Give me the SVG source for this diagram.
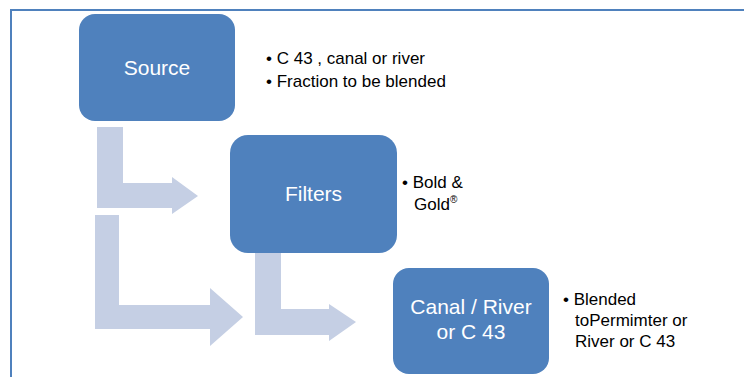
<svg xmlns="http://www.w3.org/2000/svg" width="744" height="377" viewBox="0 0 744 377">
<style>
.box{fill:#4F81BD;}
.arrow{fill:#C5CFE4;}
.lbl{font-family:"Liberation Sans",Arial,sans-serif;font-size:21px;fill:#FFFFFF;text-anchor:middle;}
.txt{font-family:"Liberation Sans",Arial,sans-serif;font-size:17px;fill:#000000;}
.frame{fill:none;stroke:#4F81BD;stroke-width:2;}
</style>
<rect width="744" height="377" fill="#FFFFFF"/>
<polyline class="frame" points="11,377 11,10 744,10"/>
<g id="connectors">
<polygon class="arrow" points="97,127 123,127 123,183 172,183 172,177 198,196 172,214 172,208 97,208"/>
<polygon class="arrow" points="95,215 119,215 119,305 210,305 210,288 243,317 210,346 210,329 95,329"/>
<polygon class="arrow" points="255,253 281,253 281,309 329,309 329,304 356,322 329,341 329,335 255,335"/>
</g>
<g id="source">
<rect class="box" x="79" y="14" width="156" height="107" rx="16"/>
<text class="lbl" x="157" y="75">Source</text>
</g>
<g id="source-notes">
<text class="txt" x="266" y="64">• C 43 , canal or river</text>
<text class="txt" x="266" y="87">• Fraction to be blended</text>
</g>
<g id="filters">
<rect class="box" x="230" y="135" width="167" height="118" rx="18"/>
<text class="lbl" x="313.5" y="201">Filters</text>
</g>
<g id="filters-notes">
<text class="txt" x="402" y="188">• Bold &amp;</text>
<text class="txt" x="414" y="210">Gold<tspan font-size="10" dy="-7">®</tspan></text>
</g>
<g id="canal">
<rect class="box" x="393" y="268" width="156" height="106" rx="16"/>
<text class="lbl" x="471" y="314">Canal / River</text>
<text class="lbl" x="471" y="339">or C 43</text>
</g>
<g id="canal-notes">
<text class="txt" x="563" y="305">• Blended</text>
<text class="txt" x="575" y="326">toPermimter or</text>
<text class="txt" x="575" y="347">River or C 43</text>
</g>
</svg>
